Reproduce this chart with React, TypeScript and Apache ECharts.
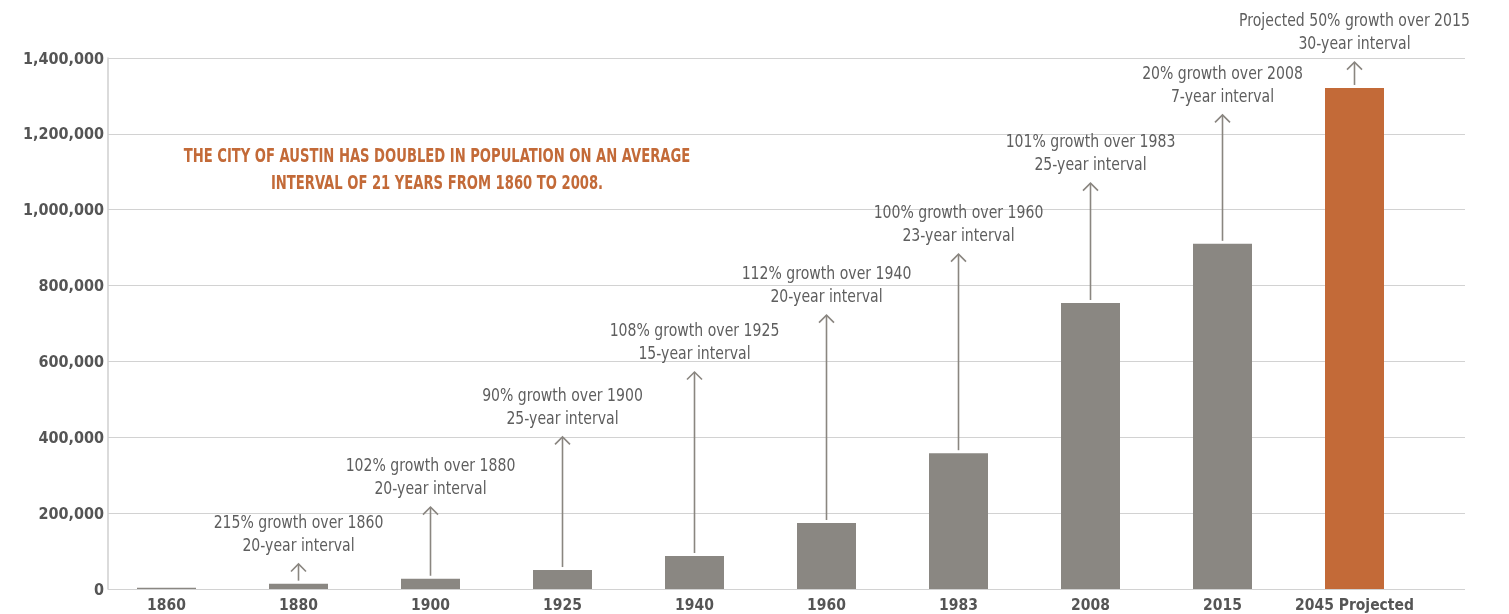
import React, { useEffect, useRef } from "react";
import * as echarts from "echarts";

const categories = ["1860", "1880", "1900", "1925", "1940", "1960", "1983", "2008", "2015", "2045 Projected"];
const population = [3500, 14000, 27000, 50000, 87000, 174000, 358000, 754000, 910000, 1321000];
const arrowTops = [null, 66000, 216000, 401000, 572000, 722000, 883000, 1070000, 1250000, 1389000];
const growthLabels = [
  "",
  "215% growth over 1860",
  "102% growth over 1880",
  "90% growth over 1900",
  "108% growth over 1925",
  "112% growth over 1940",
  "100% growth over 1960",
  "101% growth over 1983",
  "20% growth over 2008",
  "Projected 50% growth over 2015",
];
const intervalLabels = [
  "",
  "20-year interval",
  "20-year interval",
  "25-year interval",
  "15-year interval",
  "20-year interval",
  "23-year interval",
  "25-year interval",
  "7-year interval",
  "30-year interval",
];
const yTicks = { min: 0, max: 1400000, interval: 200000 };
const headline = "THE CITY OF AUSTIN HAS DOUBLED IN POPULATION ON AN AVERAGE\nINTERVAL OF 21 YEARS FROM 1860 TO 2008.";

const FONT = "'DejaVu Sans Condensed', 'DejaVu Sans', sans-serif";
const GRAY_BAR = "#8a8782";
const ORANGE = "#c36a38";
const ARROW = "#8a8680";
const TEXT = "#5e5e5e";

export default function App() {
  const ref = useRef<HTMLDivElement>(null);
  useEffect(() => {
    if (!ref.current) return;
    const chart = echarts.init(ref.current, null, { renderer: "svg" });
    const customData = categories
      .map((_, i) => (arrowTops[i] == null ? null : [i, population[i], arrowTops[i]]))
      .filter((d) => d !== null);
    chart.setOption({
      animation: false,
      grid: [
        { left: 108, right: 44, top: 58, bottom: 25 },
        { left: 100.5, right: 88.5, top: 58, bottom: 25 },
      ],
      xAxis: [
        { gridIndex: 0, type: "value", show: false, min: 0, max: 1 },
        {
          gridIndex: 1,
          type: "category",
          data: categories,
          axisLine: { show: false },
          axisTick: { show: false },
          axisLabel: {
            color: "#555",
            fontWeight: "bold",
            fontSize: 15.5,
            fontFamily: FONT,
            margin: 8,
            interval: 0,
          },
        },
      ],
      yAxis: [
        {
          gridIndex: 0,
          type: "value",
          min: yTicks.min,
          max: yTicks.max,
          interval: yTicks.interval,
          axisLine: { show: true, lineStyle: { color: "#cfcfcf", width: 1.5 } },
          axisTick: { show: false },
          splitLine: { lineStyle: { color: "#d2d2d2", width: 1.2 } },
          axisLabel: {
            color: "#555",
            fontWeight: "bold",
            fontSize: 16,
            fontFamily: FONT,
            margin: 4,
            formatter: (v: number) => v.toLocaleString("en-US"),
          },
        },
        { gridIndex: 1, type: "value", min: yTicks.min, max: yTicks.max, show: false },
      ],
      graphic: [
        {
          type: "text",
          x: 437,
          y: 169,
          scaleX: 0.77,
          style: {
            text: headline,
            x: 0,
            y: 0,
            textAlign: "center",
            textVerticalAlign: "middle",
            fill: ORANGE,
            fontWeight: "bold",
            fontSize: 19,
            lineHeight: 27,
            fontFamily: FONT,
          },
        },
      ],
      series: [
        {
          type: "bar",
          xAxisIndex: 1,
          yAxisIndex: 1,
          barWidth: 59,
          data: population.map((v, i) => ({
            value: v,
            itemStyle: { color: i === categories.length - 1 ? ORANGE : GRAY_BAR },
          })),
        },
        {
          type: "custom",
          xAxisIndex: 1,
          yAxisIndex: 1,
          clip: false,
          silent: true,
          data: customData,
          encode: { x: 0, y: 2 },
          renderItem: (params: any, api: any) => {
            const i = api.value(0);
            const base = api.coord([i, api.value(1)]);
            const tip = api.coord([i, api.value(2)]);
            const x = base[0];
            const ty = tip[1];
            return {
              type: "group",
              children: [
                {
                  type: "line",
                  shape: { x1: x, y1: base[1] - 3, x2: x, y2: ty },
                  style: { stroke: ARROW, lineWidth: 1.6 },
                },
                {
                  type: "polyline",
                  shape: { points: [[x - 7.5, ty + 7.5], [x, ty], [x + 7.5, ty + 7.5]] },
                  style: { stroke: ARROW, lineWidth: 1.6, fill: "none" },
                },
                {
                  type: "text",
                  x: x,
                  y: ty - 7,
                  scaleX: 0.92,
                  style: {
                    text: growthLabels[i] + "\n" + intervalLabels[i],
                    x: 0,
                    y: 0,
                    textAlign: "center",
                    textVerticalAlign: "bottom",
                    fill: TEXT,
                    fontSize: 17,
                    lineHeight: 23,
                    fontFamily: FONT,
                  },
                },
              ],
            };
          },
        },
      ],
    });
    return () => chart.dispose();
  }, []);
  return (
    <div
      ref={ref}
      style={{ position: "fixed", left: 0, top: 0, width: 1509, height: 614 }}
    />
  );
}
